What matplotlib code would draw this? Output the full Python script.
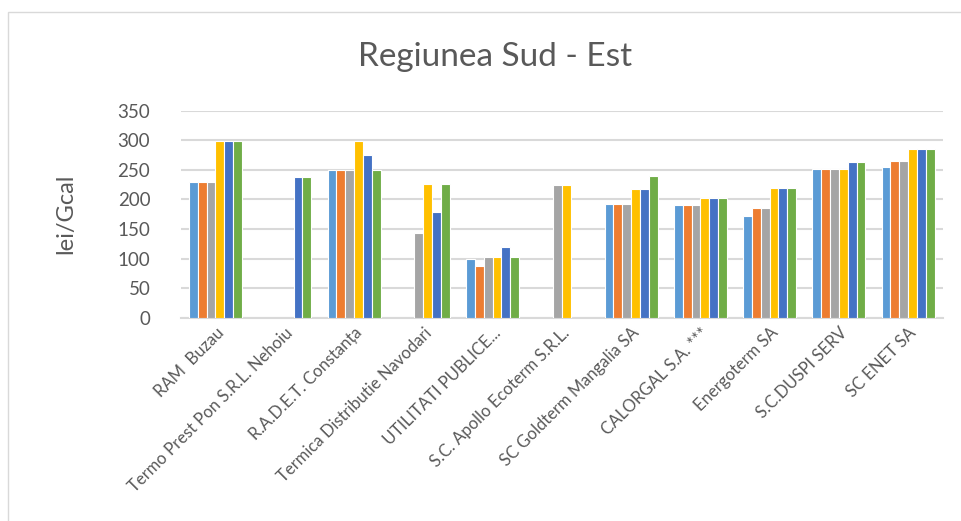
import numpy as np
import matplotlib.pyplot as plt
from matplotlib.patches import Rectangle

nan = np.nan

firme = ['RAM  Buzau', 'Termo Prest Pon S.R.L. Nehoiu', 'R.A.D.E.T. Constanța',
         'Termica Distributie Navodari', 'UTILITATI PUBLICE...',
         'S.C. Apollo Ecoterm S.R.L.', 'SC Goldterm Mangalia SA',
         'CALORGAL S.A. ***', 'Energoterm SA', 'S.C.DUSPI SERV', 'SC ENET SA']

# sase serii (fara legenda in original)
serie1 = [230, nan, 250, nan, 99, nan, 192, 190, 172, 252, 255]
serie2 = [230, nan, 250, nan, 87, nan, 192, 190, 186, 252, 265]
serie3 = [230, nan, 250, 143, 102, 224, 192, 190, 186, 252, 265]
serie4 = [298, nan, 298, 226, 102, 224, 217, 203, 220, 252, 285]
serie5 = [298, 238, 275, 178, 120, nan, 217, 203, 220, 263, 285]
serie6 = [298, 238, 250, 226, 102, nan, 239, 203, 220, 263, 285]

serii = [serie1, serie2, serie3, serie4, serie5, serie6]
culori = ['#5B9BD5', '#ED7D31', '#A5A5A5', '#FFC000', '#4472C4', '#70AD47']

plt.rcParams['font.family'] = ['Lato', 'DejaVu Sans']
text_col = '#595959'

fig = plt.figure(figsize=(9.62, 5.21), dpi=100)
ax = fig.add_axes([0.188, 0.390, 0.792, 0.3975])

x = np.arange(len(firme))
latime = 0.1275
for i, (vals, c) in enumerate(zip(serii, culori)):
    ax.bar(x + (i - 2.5) * latime, vals, width=latime, color=c,
           edgecolor='white', linewidth=0.8, zorder=3)

ax.set_xlim(-0.5, len(firme) - 0.5)
ax.set_ylim(0, 350)
ax.set_yticks(range(0, 351, 50))
ax.grid(axis='y', color='#D9D9D9', linewidth=1.5, zorder=0)
for s in ['top', 'right', 'left']:
    ax.spines[s].set_visible(False)
ax.spines['bottom'].set_color('#D9D9D9')
ax.spines['bottom'].set_linewidth(1.5)
ax.tick_params(axis='both', length=0, colors=text_col)
ax.tick_params(axis='y', labelsize=13.5, pad=22)
ax.set_xticks(x)
ax.set_xticklabels(firme, rotation=45, ha='right', va='top',
                   rotation_mode='anchor', fontsize=12, color=text_col)
ax.tick_params(axis='x', pad=5)

ax.set_ylabel('lei/Gcal', fontsize=17, color=text_col, labelpad=30)
fig.text(0.515, 0.89, 'Regiunea Sud - Est', ha='center', va='center',
         fontsize=24, color=text_col)

# chenarul zonei graficului
fig.patches.append(Rectangle((8 / 962, -0.1), 1.1, 1 - 12 / 521 + 0.1,
                             transform=fig.transFigure, fill=False,
                             edgecolor='#D9D9D9', linewidth=1))

fig.savefig('out.png', dpi=100)
